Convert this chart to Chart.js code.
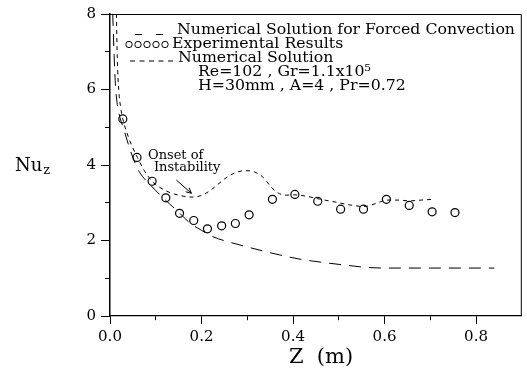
<!DOCTYPE html>
<html>
<head>
<meta charset="utf-8">
<script src="https://cdn.jsdelivr.net/npm/chart.js@4.4.0/dist/chart.umd.min.js"></script>
<style>
  html, body { margin: 0; padding: 0; background: #fff; }
  #wrap { width: 527px; height: 371px; }
</style>
</head>
<body>
<div id="wrap"><canvas id="nuChart" width="527" height="371"></canvas></div>
<script>
// Local Nusselt number along the channel (Re=102, Gr=1.1x10^5)
var forcedZ  = [0.006, 0.009, 0.012, 0.016, 0.022, 0.030, 0.044, 0.055, 0.065, 0.090, 0.123, 0.150, 0.174, 0.200, 0.225, 0.260, 0.297, 0.335, 0.370, 0.413, 0.478, 0.520, 0.558, 0.600, 0.700, 0.840];
var forcedNu = [8.0, 6.9, 6.1, 5.6, 5.25, 4.95, 4.4, 4.05, 3.8, 3.45, 3.05, 2.75, 2.47, 2.27, 2.1, 1.96, 1.84, 1.72, 1.62, 1.51, 1.40, 1.34, 1.29, 1.27, 1.27, 1.27];

var expZ  = [0.028, 0.059, 0.092, 0.122, 0.152, 0.183, 0.213, 0.244, 0.274, 0.304, 0.355, 0.404, 0.454, 0.504, 0.554, 0.604, 0.654, 0.704, 0.754];
var expNu = [5.22, 4.20, 3.57, 3.13, 2.72, 2.53, 2.31, 2.39, 2.45, 2.68, 3.09, 3.22, 3.04, 2.83, 2.83, 3.09, 2.93, 2.76, 2.74];

var numZ  = [0.014, 0.016, 0.019, 0.023, 0.028, 0.040, 0.050, 0.060, 0.075, 0.092, 0.120, 0.150, 0.181, 0.205, 0.225, 0.245, 0.261, 0.280, 0.297, 0.315, 0.334, 0.350, 0.362, 0.385, 0.404, 0.430, 0.457, 0.500, 0.525, 0.556, 0.581, 0.605, 0.630, 0.654, 0.680, 0.704];
var numNu = [8.0, 6.8, 6.0, 5.55, 5.22, 4.75, 4.45, 4.2, 3.85, 3.57, 3.33, 3.2, 3.15, 3.22, 3.38, 3.58, 3.72, 3.82, 3.85, 3.82, 3.68, 3.45, 3.3, 3.2, 3.21, 3.17, 3.1, 3.0, 2.94, 2.9, 2.98, 3.07, 3.07, 3.05, 3.07, 3.09];

var xTickValues = [0.0, 0.1, 0.2, 0.3, 0.4, 0.5, 0.6, 0.7, 0.8];
var xTickLabels = ['0.0', '', '0.2', '', '0.4', '', '0.6', '', '0.8'];
var yTickValues = [0, 1, 2, 3, 4, 5, 6, 7, 8];
var yTickLabels = ['0', '', '2', '', '4', '', '6', '', '8'];

var legendLabels = ['Numerical Solution for Forced Convection', 'Experimental Results', 'Numerical Solution'];
var paramLines = ['Re=102 , Gr=1.1x10\u2075', 'H=30mm , A=4 , Pr=0.72'];
var onsetLines = ['Onset of', 'Instability'];

var SERIF = '"DejaVu Serif", "Liberation Serif", serif';

function toPoints(xs, ys) {
  return xs.map(function (x, i) { return { x: x, y: ys[i] }; });
}

// short ticks for the unlabeled values, dash pattern keeps only the part next to the axis
function minorDash(labels, fromOuter) {
  return function (ctx) {
    if (labels[ctx.index] !== '') return [];
    return fromOuter ? [0, 4, 4, 100] : [4, 100];
  };
}

// text widened horizontally by sx, left edge at x
function wideText(c, text, x, y, sx) {
  c.save();
  c.translate(x, y);
  c.scale(sx, 1);
  c.fillText(text, 0, 0);
  c.restore();
}

// frame, legend block, axis titles and the annotation arrow
var decorations = {
  id: 'decorations',
  afterDraw: function (chart) {
    var c = chart.ctx, a = chart.chartArea;
    var xs = chart.scales.x, ys = chart.scales.y;
    c.save();
    c.strokeStyle = '#000';
    c.fillStyle = '#000';

    // top and right edges of the box
    c.lineWidth = 1;
    c.beginPath();
    c.moveTo(a.left, a.top + 0.5);
    c.lineTo(a.right - 0.5, a.top + 0.5);
    c.lineTo(a.right - 0.5, a.bottom);
    c.stroke();

    // legend
    c.font = '15px ' + SERIF;
    c.textBaseline = 'middle';
    c.textAlign = 'left';
    var sx = 338 / c.measureText(legendLabels[0]).width;
    var rowY = [a.top + 16.5, a.top + 30, a.top + 44];
    c.lineWidth = 1;
    // long dashes
    c.beginPath();
    c.moveTo(135, rowY[0] + 4); c.lineTo(142, rowY[0] + 4);
    c.moveTo(156, rowY[0] + 4); c.lineTo(163, rowY[0] + 4);
    c.stroke();
    // circles
    for (var i = 0; i < 5; i++) {
      c.beginPath();
      c.arc(129 + i * 9, rowY[1] + 0.5, 3.2, 0, Math.PI * 2);
      c.stroke();
    }
    // short dashes
    c.beginPath();
    for (var j = 0; j < 5; j++) {
      c.moveTo(130 + j * 9.5, rowY[2] + 3);
      c.lineTo(135 + j * 9.5, rowY[2] + 3);
    }
    c.stroke();
    wideText(c, legendLabels[0], 177, rowY[0], sx);
    wideText(c, legendLabels[1], 172, rowY[1], sx);
    wideText(c, legendLabels[2], 178, rowY[2], sx);
    wideText(c, paramLines[0], 198, a.top + 58, sx);
    wideText(c, paramLines[1], 198, a.top + 72.5, sx);

    // annotation placed in data coordinates
    c.font = '13px ' + SERIF;
    c.fillText(onsetLines[0], xs.getPixelForValue(0.083), ys.getPixelForValue(4.26));
    c.fillText(onsetLines[1], xs.getPixelForValue(0.096), ys.getPixelForValue(3.92));
    var x0 = xs.getPixelForValue(0.145), y0 = ys.getPixelForValue(3.6);
    var x1 = xs.getPixelForValue(0.178), y1 = ys.getPixelForValue(3.25);
    c.beginPath();
    c.moveTo(x0, y0); c.lineTo(x1, y1);
    var ang = Math.atan2(y1 - y0, x1 - x0);
    c.moveTo(x1 - 6 * Math.cos(ang - 0.45), y1 - 6 * Math.sin(ang - 0.45));
    c.lineTo(x1, y1);
    c.lineTo(x1 - 6 * Math.cos(ang + 0.45), y1 - 6 * Math.sin(ang + 0.45));
    c.stroke();

    // axis titles
    c.font = '18px ' + SERIF;
    c.fillText('Nu', 15, 166);
    var nuW = c.measureText('Nu').width;
    c.font = '13px ' + SERIF;
    c.fillText('z', 15 + nuW + 1, 171);
    c.font = '21px ' + SERIF;
    c.textAlign = 'center';
    c.fillText('Z  (m)', 321, 358);
    c.restore();
  }
};

var chart = new Chart(document.getElementById('nuChart'), {
  type: 'line',
  data: {
    datasets: [
      {
        label: legendLabels[0],
        data: toPoints(forcedZ, forcedNu),
        borderColor: '#000',
        borderWidth: 1,
        borderDash: [12, 8],
        pointRadius: 0,
        cubicInterpolationMode: 'monotone',
        fill: false
      },
      {
        label: legendLabels[1],
        data: toPoints(expZ, expNu),
        showLine: false,
        pointRadius: 4,
        pointStyle: 'circle',
        pointBackgroundColor: 'rgba(255,255,255,0)',
        pointBorderColor: '#000',
        pointBorderWidth: 1.2
      },
      {
        label: legendLabels[2],
        data: toPoints(numZ, numNu),
        borderColor: '#000',
        borderWidth: 1,
        borderDash: [4, 4],
        pointRadius: 0,
        cubicInterpolationMode: 'monotone',
        fill: false
      }
    ]
  },
  options: {
    responsive: false,
    animation: false,
    layout: { padding: { top: 14, right: 5, left: 0, bottom: 0 } },
    plugins: { legend: { display: false }, tooltip: { enabled: false } },
    scales: {
      x: {
        type: 'linear',
        min: 0,
        max: 0.9,
        afterFit: function (s) { s.height = 55; },
        afterBuildTicks: function (s) { s.ticks = xTickValues.map(function (v) { return { value: v }; }); },
        grid: {
          display: true, drawOnChartArea: false, drawTicks: true, tickLength: 8,
          tickColor: '#000', tickWidth: 1,
          tickBorderDash: minorDash(xTickLabels, false)
        },
        border: { display: true, color: '#000', width: 1.2 },
        ticks: {
          color: '#000', padding: 4, maxRotation: 0, autoSkip: false,
          font: { family: SERIF, size: 15 },
          callback: function (v, i) { return xTickLabels[i]; }
        }
      },
      y: {
        type: 'linear',
        min: 0,
        max: 8,
        afterFit: function (s) { s.width = 110; },
        afterBuildTicks: function (s) { s.ticks = yTickValues.map(function (v) { return { value: v }; }); },
        grid: {
          display: true, drawOnChartArea: false, drawTicks: true, tickLength: 9,
          tickColor: '#000', tickWidth: 1,
          tickBorderDash: minorDash(yTickLabels, true)
        },
        border: { display: true, color: '#000', width: 1.5 },
        ticks: {
          color: '#000', padding: 5, autoSkip: false,
          font: { family: SERIF, size: 15 },
          callback: function (v, i) { return yTickLabels[i]; }
        }
      }
    }
  },
  plugins: [decorations]
});
</script>
</body>
</html>
